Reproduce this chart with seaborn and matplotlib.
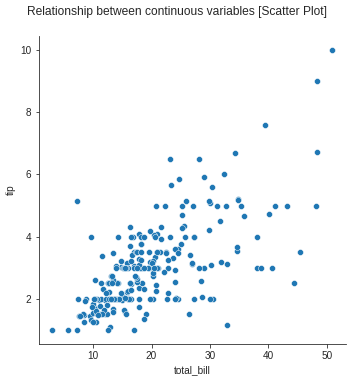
import matplotlib
matplotlib.use("Agg")
import matplotlib.pyplot as plt
import seaborn as sns
import pandas as pd

total_bill = [16.99,10.34,21.01,23.68,24.59,25.29,8.77,26.88,15.04,14.78,10.27,35.26,15.42,18.43,14.83,21.58,10.33,16.29,16.97,20.65,
17.92,20.29,15.77,39.42,19.82,17.81,13.37,12.69,21.7,19.65,9.55,18.35,15.06,20.69,17.78,24.06,16.31,16.93,18.69,31.27,
16.04,17.46,13.94,9.68,30.4,18.29,22.23,32.4,28.55,18.04,12.54,10.29,34.81,9.94,25.56,19.49,38.01,26.41,11.24,48.27,
20.29,13.81,11.02,18.29,17.59,20.08,16.45,3.07,20.23,15.01,12.02,17.07,26.86,25.28,14.73,10.51,17.92,27.2,22.76,17.29,
19.44,16.66,10.07,32.68,15.98,34.83,13.03,18.28,24.71,21.16,28.97,22.49,5.75,16.32,22.75,40.17,27.28,12.03,21.01,12.46,
11.35,15.38,44.3,22.42,20.92,15.36,20.49,25.21,18.24,14.31,14.0,7.25,38.07,23.95,25.71,17.31,29.93,10.65,12.43,24.08,
11.69,13.42,14.26,15.95,12.48,29.8,8.52,14.52,11.38,22.82,19.08,20.27,11.17,12.26,18.26,8.51,10.33,14.15,16.0,13.16,
17.47,34.3,41.19,27.05,16.43,8.35,18.64,11.87,9.78,7.51,14.07,13.13,17.26,24.55,19.77,29.85,48.17,25.0,13.39,16.49,
21.5,12.66,16.21,13.81,17.51,24.52,20.76,31.71,10.59,10.63,50.81,15.81,7.25,31.85,16.82,32.9,17.89,14.48,9.6,34.63,
34.65,23.33,45.35,23.17,40.55,20.69,20.9,30.46,18.15,23.1,15.69,19.81,28.44,15.48,16.58,7.56,10.34,43.11,13.0,13.51,
18.71,12.74,13.0,16.4,20.53,16.47,26.59,38.73,24.27,12.76,30.06,25.89,48.33,13.27,28.17,12.9,28.15,11.59,7.74,30.14,
12.16,13.42,8.58,15.98,13.42,16.27,10.09,20.45,13.28,22.12,24.01,15.69,11.61,10.77,15.53,10.07,12.6,32.83,35.83,29.03,
27.18,22.67,17.82,18.78]

tip = [1.01,1.66,3.5,3.31,3.61,4.71,2.0,3.12,1.96,3.23,1.71,5.0,1.57,3.0,3.02,3.92,1.67,3.71,3.5,3.35,
4.08,2.75,2.23,7.58,3.18,2.34,2.0,2.0,4.3,3.0,1.45,2.5,3.0,2.45,3.27,3.6,2.0,3.07,2.31,5.0,
2.24,2.54,3.06,1.32,5.6,3.0,5.0,6.0,2.05,3.0,2.5,2.6,5.2,1.56,4.34,3.51,3.0,1.5,1.76,6.73,
3.21,2.0,1.98,3.76,2.64,3.15,2.47,1.0,2.01,2.09,1.97,3.0,3.14,5.0,2.2,1.25,3.08,4.0,3.0,2.71,
3.0,3.4,1.83,5.0,2.03,5.17,2.0,4.0,5.85,3.0,3.0,3.5,1.0,4.3,3.25,4.73,4.0,1.5,3.0,1.5,
2.5,3.0,2.5,3.48,4.08,1.64,4.06,4.29,3.76,4.0,3.0,1.0,4.0,2.55,4.0,3.5,5.07,1.5,1.8,2.92,
2.31,1.68,2.5,2.0,2.52,4.2,1.48,2.0,2.0,2.18,1.5,2.83,1.5,2.0,3.25,1.25,2.0,2.0,2.0,2.75,
3.5,6.7,5.0,5.0,2.3,1.5,1.36,1.63,1.73,2.0,2.5,2.0,2.74,2.0,2.0,5.14,5.0,3.75,2.61,2.0,
3.5,2.5,2.0,2.0,3.0,3.48,2.24,4.5,1.61,2.0,10.0,3.16,5.15,3.18,4.0,3.11,2.0,2.0,4.0,3.55,
3.68,5.65,3.5,6.5,3.0,5.0,3.5,2.0,3.5,4.0,1.5,4.19,2.56,2.02,4.0,1.44,2.0,5.0,2.0,2.0,
4.0,2.01,2.0,2.5,4.0,3.23,3.41,3.0,2.03,2.23,2.0,5.16,9.0,2.5,6.5,1.1,3.0,1.5,1.44,3.09,
2.2,3.48,1.92,3.0,1.58,2.5,2.0,3.0,2.72,2.88,2.0,3.0,3.39,1.47,3.0,1.25,1.0,1.17,4.67,5.92,
2.0,2.0,1.75,3.0]

df = pd.DataFrame({"total_bill": total_bill, "tip": tip})

sns.set_style("ticks")
plt.rcParams['font.family'] = ['Liberation Sans', 'DejaVu Sans']

fig = plt.figure(figsize=(352/72, 381/72), dpi=72)
ax = fig.add_axes([38.5/352, 37/381, 307.2/352, 308/381])
sns.scatterplot(data=df, x="total_bill", y="tip", ax=ax)
sns.despine(ax=ax)
fig.suptitle("Relationship between continuous variables [Scatter Plot]", fontsize=12, x=0.503, y=0.985)
fig.savefig("out.png", dpi=72)
